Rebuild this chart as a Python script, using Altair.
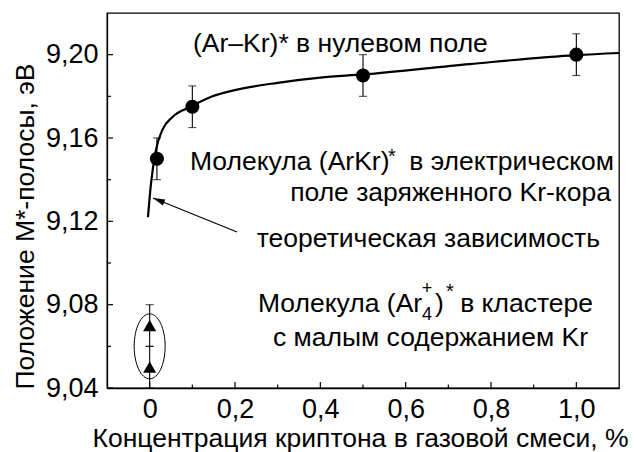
import altair as alt
import pandas as pd

FONT = "Liberation Sans"

# Measured band positions, (Ar-Kr)* series
conc = [0.017, 0.1, 0.5, 1.0]
energy = [9.150, 9.175, 9.190, 9.200]
energy_err = [0.01, 0.01, 0.01, 0.01]

# (Ar4+)* cluster molecule, low Kr content
cluster_conc = [0.0, 0.0]
cluster_energy = [9.07, 9.05]
cluster_err = [0.01, 0.01]

# Theoretical dependence
theory_conc = [-0.004, 0.003, 0.0145, 0.03, 0.053, 0.096, 0.147, 0.2, 0.3, 0.4, 0.5, 0.75, 1.0, 1.1]
theory_energy = [9.122, 9.138, 9.154, 9.164, 9.170, 9.175, 9.180, 9.183, 9.1865, 9.189, 9.1905, 9.1955, 9.1998, 9.2008]

# Axis ticks
x_major = [0.0, 0.2, 0.4, 0.6, 0.8, 1.0]
x_minor = [0.1, 0.3, 0.5, 0.7, 0.9]
y_major = [9.04, 9.08, 9.12, 9.16, 9.20]
y_minor = [9.06, 9.10, 9.14, 9.18]

# Annotation pieces: text, x, y, font size, alignment
ann_text = [
    "(Ar\u2013Kr)* в нулевом поле",
    "Молекула (ArKr)", "*", " в электрическом",
    "поле заряженного Kr-кора",
    "теоретическая зависимость",
    "Молекула (Ar", "+", "4", ")", "*", " в кластере",
    "с малым содержанием Kr",
]
ann_x = [0.1016, 0.0945, 0.5586, 1.0883, 1.0812, 1.0554,
         0.2539, 0.6500, 0.6500, 0.6687, 0.6945, 1.0390, 1.0273]
ann_y = [9.2013, 9.1446, 9.1480, 9.1446, 9.1298, 9.1079,
         9.0765, 9.0850, 9.0728, 9.0765, 9.0830, 9.0765, 9.0602]
ann_size = [26.5, 26.5, 20, 26.5, 26.5, 26.5, 26.5, 18, 18, 26.5, 20, 26.5, 26.5]
ann_align = ["left", "left", "left", "right", "right", "right",
             "left", "center", "center", "left", "left", "right", "right"]

# Arrow pointing at the theoretical curve
arrow_x = [0.2047]
arrow_y = [9.1149]
arrow_x2 = [0.0078]
arrow_y2 = [9.1312]

# Ellipse around the cluster points
ellipse_x = [0.0]
ellipse_y = [9.06]

W, H = 512, 375
xs = alt.Scale(domain=[-0.1, 1.1], nice=False, zero=False)
ys = alt.Scale(domain=[9.04, 9.22], nice=False, zero=False)

pts = pd.DataFrame({"c": conc, "e": energy,
                    "lo": [e - d for e, d in zip(energy, energy_err)],
                    "hi": [e + d for e, d in zip(energy, energy_err)]})
clu = pd.DataFrame({"c": cluster_conc, "e": cluster_energy,
                    "lo": [e - d for e, d in zip(cluster_energy, cluster_err)],
                    "hi": [e + d for e, d in zip(cluster_energy, cluster_err)]})
bars = pd.concat([pts, clu], ignore_index=True)
caps = pd.DataFrame({"c": list(bars["c"]) * 2, "v": list(bars["lo"]) + list(bars["hi"])})
theory = pd.DataFrame({"c": theory_conc, "e": theory_energy})
ann = pd.DataFrame({"t": ann_text, "x": ann_x, "y": ann_y, "s": ann_size, "a": ann_align})

x_axis = alt.Axis(
    values=x_major, grid=False, ticks=False, domainColor="black", domainWidth=1.3,
    labelExpr="datum.value == 0 ? '0' : replace(format(datum.value, '.1f'), '.', ',')",
    labelFont=FONT, labelFontSize=27, labelColor="black", labelPadding=8,
    title="Концентрация криптона в газовой смеси, %", titleFont=FONT, titleFontSize=26.5,
    titleFontWeight="normal", titleColor="black", titleBaseline="alphabetic",
    titleAlign="center", titleX=253, titleY=58.7,
)
y_axis = alt.Axis(
    values=y_major, grid=False, ticks=False, domainColor="black", domainWidth=1.3,
    labelExpr="replace(format(datum.value, '.2f'), '.', ',')",
    labelFont=FONT, labelFontSize=27, labelColor="black", labelPadding=9,
    title="Положение M*-полосы, эВ", titleFont=FONT, titleFontSize=26.5,
    titleFontWeight="normal", titleColor="black", titleBaseline="alphabetic",
    titleAlign="center", titleAngle=270, titleX=-74, titleY=213,
)

curve = alt.Chart(theory).mark_line(color="black", strokeWidth=2.2, interpolate="monotone").encode(
    x=alt.X("c:Q", scale=xs, axis=x_axis),
    y=alt.Y("e:Q", scale=ys, axis=y_axis),
)

err = alt.Chart(bars).mark_rule(color="black", strokeWidth=1.1).encode(
    x=alt.X("c:Q", scale=xs), y=alt.Y("lo:Q", scale=ys), y2="hi:Q")
cap = alt.Chart(caps).mark_tick(color="black", orient="horizontal", size=8, thickness=1.1).encode(
    x=alt.X("c:Q", scale=xs), y=alt.Y("v:Q", scale=ys))

dots = alt.Chart(pts).mark_point(shape="circle", filled=True, color="black", size=200, opacity=1).encode(
    x=alt.X("c:Q", scale=xs), y=alt.Y("e:Q", scale=ys))
tris = alt.Chart(clu).mark_point(shape="triangle-up", filled=True, color="black", size=170, opacity=1).encode(
    x=alt.X("c:Q", scale=xs), y=alt.Y("e:Q", scale=ys))

ellipse = alt.Chart(pd.DataFrame({"x": ellipse_x, "y": ellipse_y})).mark_point(
    shape="M 0 -1 A 0.477 1 0 1 1 0 1 A 0.477 1 0 1 1 0 -1 Z",
    filled=False, stroke="black", strokeWidth=1, size=4225, opacity=1,
).encode(x=alt.X("x:Q", scale=xs), y=alt.Y("y:Q", scale=ys))

arrow_df = pd.DataFrame({"x": arrow_x, "y": arrow_y, "x2": arrow_x2, "y2": arrow_y2})
arrow_line = alt.Chart(arrow_df).mark_rule(color="black", strokeWidth=1.1).encode(
    x=alt.X("x:Q", scale=xs), y=alt.Y("y:Q", scale=ys), x2="x2:Q", y2="y2:Q")
arrow_head = alt.Chart(arrow_df).mark_point(
    shape="M 0 0 L -0.27 1 L 0.27 1 Z", filled=True, color="black", size=576, angle=292, opacity=1,
).encode(x=alt.X("x2:Q", scale=xs), y=alt.Y("y2:Q", scale=ys))


def text_layer(align):
    return alt.Chart(ann).transform_filter(alt.datum.a == align).mark_text(
        font=FONT, color="black", baseline="alphabetic", align=align
    ).encode(
        x=alt.X("x:Q", scale=xs), y=alt.Y("y:Q", scale=ys), text="t:N",
        size=alt.Size("s:Q", scale=None, legend=None),
    )


labels = [text_layer(a) for a in ("left", "right", "center")]

# Inward ticks on the left and bottom axes
xt_major = alt.Chart(pd.DataFrame({"v": x_major})).mark_rule(color="black", strokeWidth=1.2).encode(
    x=alt.X("v:Q", scale=xs), y=alt.value(H), y2=alt.value(H - 6))
xt_minor = alt.Chart(pd.DataFrame({"v": x_minor})).mark_rule(color="black", strokeWidth=1.2).encode(
    x=alt.X("v:Q", scale=xs), y=alt.value(H), y2=alt.value(H - 3.5))
yt_major = alt.Chart(pd.DataFrame({"v": y_major})).mark_rule(color="black", strokeWidth=1.2).encode(
    y=alt.Y("v:Q", scale=ys), x=alt.value(0), x2=alt.value(6))
yt_minor = alt.Chart(pd.DataFrame({"v": y_minor})).mark_rule(color="black", strokeWidth=1.2).encode(
    y=alt.Y("v:Q", scale=ys), x=alt.value(0), x2=alt.value(4))

chart = alt.layer(
    curve, err, cap, dots, tris, ellipse, arrow_line, arrow_head, *labels,
    xt_major, xt_minor, yt_major, yt_minor,
).properties(
    width=W, height=H,
    background="white",
    autosize=alt.AutoSizeParams(type="none"),
    padding={"left": 107, "top": 13, "right": 15, "bottom": 64},
).configure_view(stroke="black", strokeWidth=1.3)

chart.save("out.html", embed_options={"renderer": "svg", "actions": False})
